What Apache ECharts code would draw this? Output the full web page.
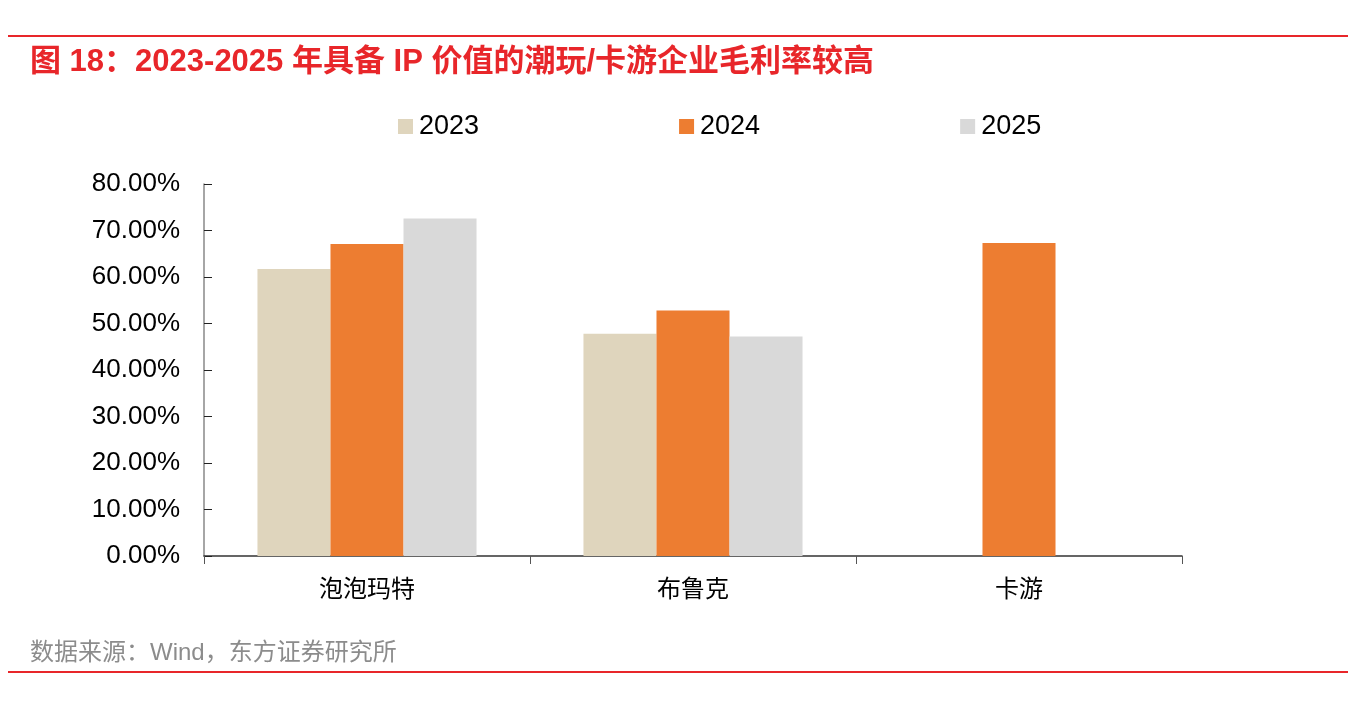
<!DOCTYPE html>
<html>
<head>
<meta charset="utf-8">
<script src="https://cdn.jsdelivr.net/npm/echarts@6/dist/echarts.min.js"></script>
<style>
  html, body { margin: 0; padding: 0; background: #fff; }
  #chart { width: 1348px; height: 703px; }
</style>
</head>
<body>
<div id="chart"></div>
<script>
var categories = ["泡泡玛特", "布鲁克", "卡游"];
var years = ["2023", "2024", "2025"];
var margin2023 = [61.7, 47.8, null];
var margin2024 = [67.1, 52.8, 67.3];
var margin2025 = [72.6, 47.2, null];
var yTicks = { min: 0, max: 80, interval: 10 };

var colors = ["#dfd5bd", "#ed7d31", "#d9d9d9"];
var font = "'Liberation Sans', 'Noto Sans CJK SC', sans-serif";

var chart = echarts.init(document.getElementById("chart"));

function bar(name, data, color) {
	return {
		name: name,
		type: "bar",
		data: data,
		barWidth: "22.4%",
		barGap: "0%",
		itemStyle: { color: color },
		emphasis: { disabled: true }
	};
}

chart.setOption({
	animation: false,
	textStyle: { fontFamily: font },
	graphic: [
		{ type: "rect", shape: { x: 8, y: 35, width: 1340, height: 2 }, style: { fill: "#e8262a" } },
		{ type: "text", left: 30, top: 47, style: {
			text: "图 18：2023-2025 年具备 IP 价值的潮玩/卡游企业毛利率较高",
			fill: "#e8262a", font: "bold 31px " + font } },
		{ type: "text", left: 30, top: 641, style: {
			text: "数据来源：Wind，东方证券研究所",
			fill: "#8c8c8c", font: "24px " + font } },
		{ type: "rect", shape: { x: 8, y: 671, width: 1340, height: 2 }, style: { fill: "#e8262a" } }
	],
	legend: {
		data: years,
		top: 113,
		left: 398,
		padding: 0,
		itemGap: 200,
		itemWidth: 15,
		itemHeight: 15,
		icon: "rect",
		textStyle: { fontSize: 27, color: "#000", fontFamily: font, padding: [0, 0, 0, 1] }
	},
	grid: { left: 204, right: 166, top: 184, bottom: 147 },
	xAxis: {
		type: "category",
		data: categories,
		axisLine: { lineStyle: { color: "#333", width: 1.5 } },
		axisTick: { show: true, length: 8, lineStyle: { color: "#555" } },
		axisLabel: { fontSize: 24, color: "#000", margin: 22 }
	},
	yAxis: {
		type: "value",
		min: yTicks.min,
		max: yTicks.max,
		interval: yTicks.interval,
		splitLine: { show: false },
		axisLine: { show: true, lineStyle: { color: "#888", width: 1.5 } },
		axisTick: { show: true, inside: true, length: 8, lineStyle: { color: "#222" } },
		axisLabel: {
			fontSize: 26, color: "#000", margin: 24,
			formatter: function (v) { return v.toFixed(2) + "%"; }
		}
	},
	series: [
		bar(years[0], margin2023, colors[0]),
		bar(years[1], margin2024, colors[1]),
		bar(years[2], margin2025, colors[2])
	]
});
</script>
</body>
</html>
